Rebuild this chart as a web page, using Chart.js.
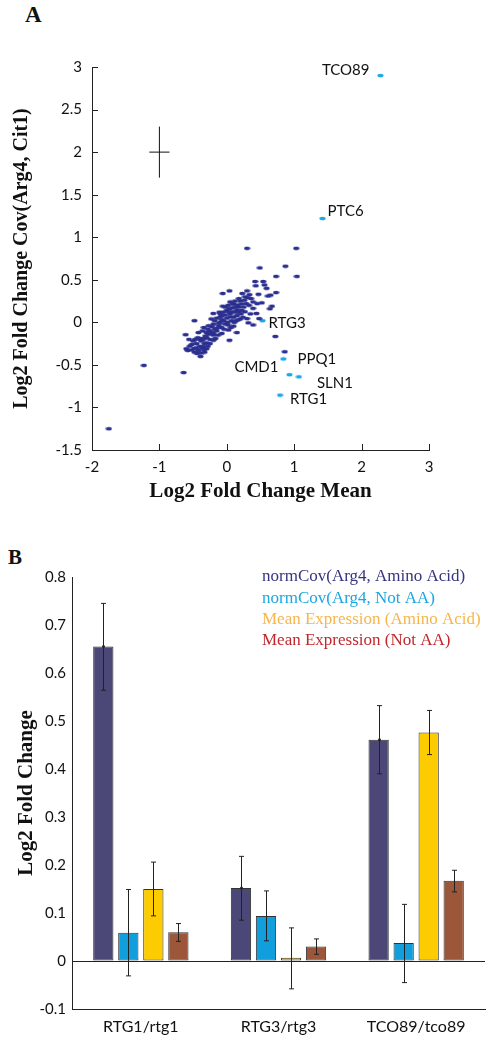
<!DOCTYPE html>
<html>
<head>
<meta charset="utf-8">
<script src="https://cdn.jsdelivr.net/npm/chart.js@4/dist/chart.umd.min.js"></script>
<style>
  body { margin: 0; background: #fff; width: 493px; height: 1045px; position: relative; overflow: hidden; }
  .panel { position: absolute; left: 0; }
  .tag { position: absolute; font-family: "Liberation Serif", serif; font-weight: bold; color: #111; }
</style>
</head>
<body>
<div class="tag" style="left:25px; top:2px; font-size:23px;">A</div>
<div class="tag" style="left:8px; top:545px; font-size:21px;">B</div>
<div class="panel" style="top:0;"><canvas id="scatter" width="493" height="520"></canvas></div>
<div class="panel" style="top:520px;"><canvas id="bars" width="493" height="525"></canvas></div>
<script>
// ---- panel A data ----
const geneX = [-1.75, -1.23, -0.64, 0.30, 1.03, 0.49, 0.87, 0.73, 1.04, 0.73, 0.72, 0.86, 0.42, 0.54, 0.43, 0.56, 0.59, 0.61, 0.65, 0.52,
  0.67, 0.64, -0.48, -0.61, -0.56, -0.60, -0.52, -0.39, -0.44, -0.48, -0.42, -0.34, -0.20, -0.06, -0.06, 0.04, 0.05, 0.10, 0.04, 0.15,
  0.30, 0.335, 0.31, 0.29, 0.39, 0.27, 0.21, 0.39, 0.44, 0.48, 0.39, 0.32, 0.30, 0.17, 0.10, 0.025, -0.075, -0.20, -0.30, -0.30,
  -0.35, -0.37, -0.27, -0.20, -0.15, -0.12, -0.075, -0.10, -0.025, 0.05, 0.075, 0.15, 0.16, 0.22, 0.26, 0.23, -0.45, -0.40, -0.38, -0.35,
  -0.33, -0.30, -0.30, -0.28, -0.25, -0.25, -0.22, -0.20, -0.20, -0.18, -0.15, -0.15, -0.12, -0.10, -0.10, -0.08, -0.05, -0.05, -0.03, 0.00,
  0.00, 0.02, 0.02, 0.05, 0.07, 0.08, 0.10, 0.12, 0.12, 0.15, 0.18, 0.20, 0.20, 0.25, 0.27, -0.55, -0.50, -0.48, -0.45, -0.42,
  -0.40, -0.37, -0.33, -0.28, -0.25, -0.22, -0.18, -0.13, -0.08, -0.02, 0.03, 0.06, 0.09, 0.13, 0.14, 0.18, 0.22, 0.24, -0.43, -0.36,
  -0.32, -0.27, -0.23, -0.17, -0.11, -0.04, 0.01, 0.04, 0.11, 0.17, -0.52, -0.47, -0.38, -0.58, -0.34, 0.35, 0.33, 0.36, 0.45, 0.47];
const geneY = [-1.25, -0.505, -0.59, 0.87, 0.87, 0.64, 0.66, 0.54, 0.54, 0.35, -0.165, -0.345, 0.48, 0.48, 0.43, 0.44, 0.40, 0.31, 0.32, 0.23,
  0.19, 0.16, 0.02, -0.145, -0.20, -0.31, -0.325, -0.40, -0.365, -0.305, -0.12, -0.06, 0.105, 0.19, 0.34, 0.37, 0.24, 0.215, -0.21, -0.12,
  0.37, 0.325, 0.29, 0.22, 0.24, 0.125, 0.10, 0.165, 0.105, 0.045, -0.03, -0.005, 0.045, 0.03, -0.045, -0.09, -0.13, -0.21, -0.24, -0.31,
  -0.285, -0.19, -0.14, -0.13, -0.07, -0.01, 0.03, 0.105, 0.085, 0.065, 0.125, 0.145, 0.205, 0.215, 0.26, 0.34, -0.25, -0.28, -0.22, -0.20,
  -0.25, -0.18, -0.12, -0.08, -0.20, -0.10, -0.05, -0.15, -0.02, 0.02, -0.10, 0.05, -0.04, 0.00, 0.06, -0.06, 0.02, 0.12, -0.02, 0.05,
  0.14, 0.20, -0.03, 0.10, 0.02, 0.17, 0.06, 0.12, 0.25, 0.08, 0.18, 0.25, 0.04, 0.18, 0.30, -0.28, -0.22, -0.35, -0.30, -0.33,
  -0.20, -0.30, -0.35, -0.28, -0.25, -0.12, -0.08, -0.15, 0.08, 0.18, 0.12, -0.06, 0.22, 0.18, 0.02, 0.28, 0.14, 0.06, -0.18, -0.10,
  -0.16, -0.04, 0.04, -0.19, 0.12, -0.08, 0.00, 0.16, 0.00, 0.12, -0.26, -0.20, -0.36, -0.33, -0.32, 0.10, 0.20, 0.28, 0.22, 0.33];

const hitNames = ['TCO89', 'PTC6', 'RTG3', 'PPQ1', 'CMD1', 'SLN1', 'RTG1'];
const hitX = [2.28, 1.42, 0.53, 0.84, 0.93, 1.07, 0.79];
const hitY = [2.90, 1.22, 0.02, -0.43, -0.615, -0.64, -0.855];

// typical error cross drawn at (-1, 2)
const crossHX = [-1.15, -0.85];
const crossHY = [2, 2];
const crossVX = [-1, -1];
const crossVY = [1.7, 2.3];

const xTicksA = [-2, -1, 0, 1, 2, 3];
const yTicksA = [-1.5, -1, -0.5, 0, 0.5, 1, 1.5, 2, 2.5, 3];

// ---- panel B data ----
const strains = ['RTG1/rtg1', 'RTG3/rtg3', 'TCO89/tco89'];
const seriesNames = ['normCov(Arg4, Amino Acid)', 'normCov(Arg4, Not AA)', 'Mean Expression (Amino Acid)', 'Mean Expression (Not AA)'];
const covAA = [0.655, 0.152, 0.461];
const covAALo = [0.564, 0.085, 0.390];
const covAAHi = [0.745, 0.218, 0.532];
const covNotAA = [0.059, 0.094, 0.0375];
const covNotAALo = [-0.031, 0.042, -0.045];
const covNotAAHi = [0.149, 0.146, 0.118];
const meanAA = [0.150, 0.007, 0.476];
const meanAALo = [0.094, -0.058, 0.430];
const meanAAHi = [0.206, 0.069, 0.522];
const meanNotAA = [0.060, 0.030, 0.167];
const meanNotAALo = [0.041, 0.014, 0.144];
const meanNotAAHi = [0.078, 0.046, 0.189];
const yTicksB = [-0.1, 0, 0.1, 0.2, 0.3, 0.4, 0.5, 0.6, 0.7, 0.8];

// ---- styles ----
const tickFont = { family: 'Lato, "Open Sans", sans-serif', size: 15 };
const titleFont = { family: '"Liberation Serif", serif', size: 21, weight: 'bold' };
const axisColor = '#222';
const barColors = ['#4b4777', '#109fdc', '#fccc00', '#9c573b'];
const legendColors = ['#36347f', '#1ca7e0', '#f7b54c', '#c1272d'];

function ellipseDot(color) {
  const c = document.createElement('canvas');
  c.width = 7; c.height = 5;
  const g = c.getContext('2d');
  g.fillStyle = color;
  g.beginPath();
  g.ellipse(3.5, 2.5, 3.1, 1.8, 0, 0, Math.PI * 2);
  g.fill();
  return c;
}

const zip = (xs, ys) => xs.map((x, i) => ({ x: x, y: ys[i] }));

// MATLAB style ticks pointing into the plot
const inwardTicks = {
  id: 'inwardTicks',
  afterDraw(chart) {
    const { ctx, chartArea: a, scales: { x, y } } = chart;
    ctx.save();
    ctx.strokeStyle = axisColor;
    ctx.lineWidth = 1;
    ctx.beginPath();
    x.ticks.forEach(t => {
      const px = Math.round(x.getPixelForValue(t.value)) + 0.5;
      ctx.moveTo(px, a.bottom); ctx.lineTo(px, a.bottom - 6);
    });
    y.ticks.forEach(t => {
      const py = Math.round(y.getPixelForValue(t.value)) + 0.5;
      ctx.moveTo(a.left, py); ctx.lineTo(a.left + 6, py);
    });
    ctx.stroke();
    ctx.restore();
  }
};

// gene name labels beside highlighted points: [dx, dy, align]
const labelOffsets = {
  TCO89: [-11, -5, 'right'], PTC6: [5, -7, 'left'], RTG3: [6, 3, 'left'], PPQ1: [14, 0, 'left'],
  CMD1: [-11, -8, 'right'], SLN1: [18, 6, 'left'], RTG1: [10, 4, 'left']
};
const geneLabels = {
  id: 'geneLabels',
  afterDatasetsDraw(chart) {
    const { ctx, scales: { x, y } } = chart;
    ctx.save();
    ctx.fillStyle = '#111';
    ctx.font = '15px Lato, "Open Sans", sans-serif';
    ctx.textBaseline = 'middle';
    hitNames.forEach((name, i) => {
      const o = labelOffsets[name];
      ctx.textAlign = o[2];
      ctx.fillText(name, x.getPixelForValue(hitX[i]) + o[0], y.getPixelForValue(hitY[i]) + o[1]);
    });
    ctx.restore();
  }
};

new Chart(document.getElementById('scatter'), {
  type: 'scatter',
  data: {
    datasets: [
      { data: zip(geneX, geneY), pointStyle: ellipseDot('#2b2f8f'), pointRadius: 3 },
      { data: zip(hitX, hitY), pointStyle: ellipseDot('#1aa8e8'), pointRadius: 3 },
      { data: zip(crossHX, crossHY), showLine: true, borderColor: '#111', borderWidth: 1, pointRadius: 0 },
      { data: zip(crossVX, crossVY), showLine: true, borderColor: '#111', borderWidth: 1, pointRadius: 0 }
    ]
  },
  options: {
    responsive: false,
    animation: false,
    devicePixelRatio: 1,
    layout: { padding: { left: 0, top: 67, right: 64, bottom: 0 } },
    plugins: { legend: { display: false }, tooltip: { enabled: false } },
    scales: {
      x: {
        min: -2, max: 3,
        afterBuildTicks: s => { s.ticks = xTicksA.map(v => ({ value: v })); },
        afterFit: s => { s.height = 70; },
        grid: { display: false, drawTicks: false },
        border: { display: true, color: axisColor, width: 1 },
        ticks: { font: tickFont, color: '#111', padding: 8, maxRotation: 0, callback: v => String(v) },
        title: { display: true, text: 'Log2 Fold Change Mean', font: titleFont, color: '#111', padding: { top: 0, bottom: 16 } }
      },
      y: {
        min: -1.5, max: 3,
        afterBuildTicks: s => { s.ticks = yTicksA.map(v => ({ value: v })); },
        afterFit: s => { s.width = 92; },
        grid: { display: false, drawTicks: false },
        border: { display: true, color: axisColor, width: 1 },
        ticks: { font: tickFont, color: '#111', padding: 10, callback: v => String(v) },
        title: { display: true, text: 'Log2 Fold Change Cov(Arg4, Cit1)', font: Object.assign({}, titleFont, { size: 20 }), color: '#111', padding: { top: 10, bottom: 0 } }
      }
    }
  },
  plugins: [inwardTicks, geneLabels]
});

// ---- panel B ----
const errLo = [covAALo, covNotAALo, meanAALo, meanNotAALo];
const errHi = [covAAHi, covNotAAHi, meanAAHi, meanNotAAHi];

const errorBars = {
  id: 'errorBars',
  afterDatasetsDraw(chart) {
    const { ctx, scales: { y } } = chart;
    ctx.save();
    ctx.strokeStyle = '#222';
    ctx.fillStyle = '#222';
    ctx.lineWidth = 1;
    chart.data.datasets.forEach((ds, i) => {
      chart.getDatasetMeta(i).data.forEach((bar, j) => {
        const cx = Math.round(bar.x) + 0.5;
        const lo = y.getPixelForValue(errLo[i][j]);
        const hi = y.getPixelForValue(errHi[i][j]);
        ctx.beginPath();
        ctx.moveTo(cx, lo); ctx.lineTo(cx, hi);
        ctx.moveTo(cx - 2.5, lo); ctx.lineTo(cx + 2.5, lo);
        ctx.moveTo(cx - 2.5, hi); ctx.lineTo(cx + 2.5, hi);
        ctx.stroke();
        if (i === 0) {
          ctx.beginPath();
          ctx.arc(cx, y.getPixelForValue(ds.data[j]), 1.5, 0, Math.PI * 2);
          ctx.fill();
        }
      });
    });
    ctx.restore();
  }
};

const textLegend = {
  id: 'textLegend',
  afterDraw(chart) {
    const { ctx } = chart;
    ctx.save();
    ctx.font = '17px "Liberation Serif", serif';
    ctx.textAlign = 'left';
    ctx.textBaseline = 'middle';
    chart.data.datasets.forEach((ds, i) => {
      ctx.fillStyle = legendColors[i];
      ctx.fillText(ds.label, 262, 57 + i * 21.2);
    });
    ctx.restore();
  }
};

const seriesValues = [covAA, covNotAA, meanAA, meanNotAA];

new Chart(document.getElementById('bars'), {
  type: 'bar',
  data: {
    labels: strains,
    datasets: seriesValues.map((vals, i) => ({
      label: seriesNames[i],
      data: vals,
      backgroundColor: barColors[i],
      borderColor: '#333',
      borderWidth: 1,
      borderSkipped: false,
      categoryPercentage: 0.727,
      barPercentage: 0.81
    }))
  },
  options: {
    responsive: false,
    animation: false,
    devicePixelRatio: 1,
    layout: { padding: { left: 0, top: 57, right: 8, bottom: 0 } },
    plugins: { legend: { display: false }, tooltip: { enabled: false } },
    scales: {
      x: {
        afterFit: s => { s.height = 36; },
        grid: { display: false, drawTicks: false },
        border: { display: true, color: axisColor, width: 1 },
        ticks: { font: { family: tickFont.family, size: 16 }, color: '#111', padding: 8, maxRotation: 0 }
      },
      y: {
        min: -0.1, max: 0.8,
        afterBuildTicks: s => { s.ticks = yTicksB.map(v => ({ value: v })); },
        afterFit: s => { s.width = 72; },
        grid: { display: true, drawTicks: false, color: c => (c.tick && c.tick.value === 0 ? axisColor : 'rgba(0,0,0,0)') },
        border: { display: true, color: axisColor, width: 1 },
        ticks: { font: tickFont, color: '#111', padding: 6, callback: v => String(v) },
        title: { display: true, text: 'Log2 Fold Change', font: titleFont, color: '#111', padding: { top: 14, bottom: 0 } }
      }
    }
  },
  plugins: [errorBars, textLegend]
});
</script>
</body>
</html>
